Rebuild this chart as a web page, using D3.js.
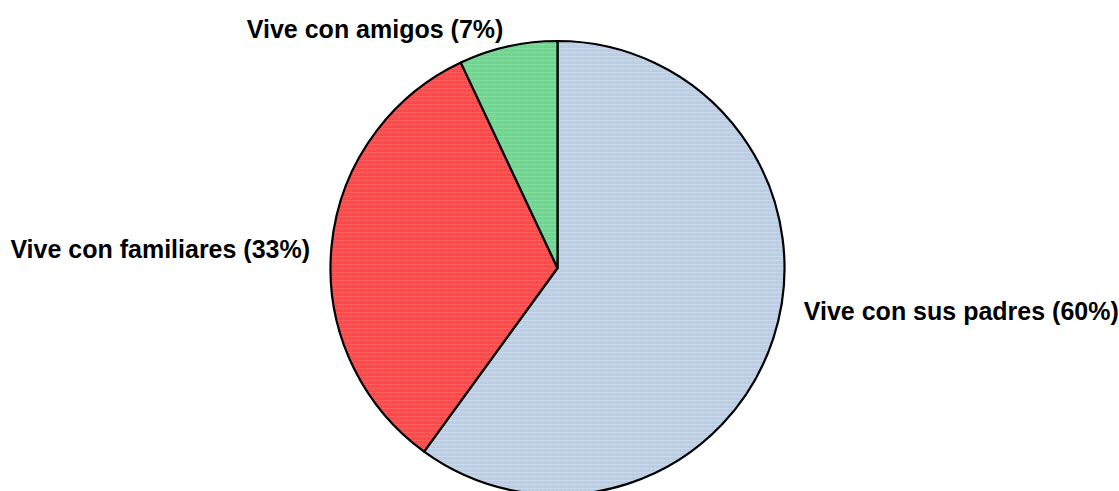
<!DOCTYPE html>
<html><head><meta charset="utf-8">
<script src="https://cdn.jsdelivr.net/npm/d3@7/dist/d3.min.js"></script>
<style>body{margin:0;background:#fff}svg{display:block}</style>
</head><body>
<svg id="c" width="1119" height="491"></svg>
<script>
const categories = ["Vive con sus padres", "Vive con familiares", "Vive con amigos"];
const values = [60, 33, 7];
const colors = ["#b8cce4", "#ff4545", "#6ad58c"];
const dotColors = ["#d6e2f2", "#ff7070", "#96e4ae"];

const svg = d3.select("#c");
const cx = 557.5, cy = 268, R = 227;
const defs = svg.append("defs");
colors.forEach((c, i) => {
  const p = defs.append("pattern").attr("id", "p" + i).attr("patternUnits", "userSpaceOnUse")
    .attr("width", 4).attr("height", 4);
  p.append("rect").attr("width", 4).attr("height", 4).attr("fill", c);
  p.append("rect").attr("x", 0).attr("y", 0).attr("width", 4).attr("height", 1).attr("fill", dotColors[i]).attr("opacity", 0.6);
  p.append("rect").attr("x", 1).attr("y", 2).attr("width", 1).attr("height", 1).attr("fill", dotColors[i]).attr("opacity", 0.8);
});

const pie = d3.pie().sort(null).value(d => d)(values);
const arc = d3.arc().innerRadius(0).outerRadius(R);
const g = svg.append("g").attr("transform", `translate(${cx},${cy})`);
g.selectAll("path").data(pie).join("path")
  .attr("d", arc)
  .attr("fill", (d, i) => `url(#p${i})`)
  .attr("stroke", "#000").attr("stroke-width", 2.2).attr("stroke-linejoin", "round");

const total = d3.sum(values);
const adjust = [[19, -22], [-9.5, 12.5], [-2, 3]];
pie.forEach((d, i) => {
  const a = (d.startAngle + d.endAngle) / 2;
  const x = Math.sin(a) * (R + 12), y = -Math.cos(a) * (R + 12);
  g.append("text")
    .attr("x", x + adjust[i][0]).attr("y", y + adjust[i][1])
    .attr("text-anchor", Math.sin(a) >= 0 ? "start" : "end")
    .attr("font-family", "Liberation Sans, Arial, sans-serif")
    .attr("font-weight", "bold").attr("font-size", 25).attr("fill", "#000")
    .text(`${categories[i]} (${Math.round(values[i] / total * 100)}%)`);
});
</script>
</body></html>
